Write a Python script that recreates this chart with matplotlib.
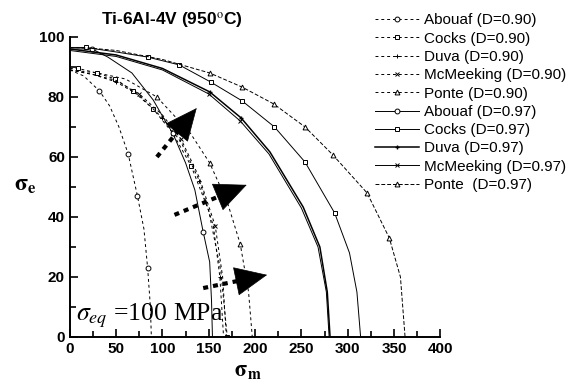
import matplotlib
matplotlib.use('Agg')
from matplotlib import pyplot as plt
from matplotlib.ticker import MultipleLocator

# D = 0.90 curves
abouaf90_x = [0, 15, 32, 43, 53, 63, 73, 80, 84, 87, 88]
abouaf90_y = [89, 87, 82, 77, 70, 61, 47, 36, 23, 10, 0]
cocks90_x = [0, 9, 29, 49, 68, 90, 111, 131, 150, 163, 170]
cocks90_y = [89.5, 89.5, 88, 86, 82, 76, 68, 57, 42, 22, 0]
duva90_x = [0, 25, 50, 75, 100, 120, 140, 155, 162, 166]
duva90_y = [89, 87.5, 85, 80.5, 73, 65, 52, 37, 20, 0]
mcmeeking90_x = [0, 25, 50, 75, 100, 120, 140, 157, 165, 169]
mcmeeking90_y = [89, 87.5, 85.5, 81, 74, 66, 53, 37, 20, 0]
ponte90_x = [0, 30, 60, 94, 130, 151, 170, 184, 193, 197]
ponte90_y = [89, 88, 86, 80, 68, 58, 45, 31, 15, 0]

# D = 0.97 curves
abouaf97_x = [0, 24, 41, 67, 90, 103, 111, 125, 135, 144, 151, 153, 154]
abouaf97_y = [96, 96, 93.3, 88, 79, 72, 68, 58, 49, 35, 25, 12, 0]
cocks97_x = [0, 17, 50, 84, 118, 152, 186, 221, 254, 286, 302, 310, 314]
cocks97_y = [96.5, 96.5, 95, 93.3, 90.7, 85, 78.7, 70, 58.3, 41.3, 28, 15, 0]
duva97_x = [0, 50, 100, 151, 185, 216, 252, 270, 278, 281]
duva97_y = [96, 94, 89.5, 81.7, 73, 61.7, 43.3, 30, 15, 0]
mcmeeking97_x = [0, 50, 100, 150, 184, 215, 250, 268, 277, 280]
mcmeeking97_y = [95.5, 93.5, 89, 81, 72, 61, 43, 30, 15, 0]
ponte97_x = [0, 25, 50, 100, 151, 186, 220, 254, 284, 321, 345, 357, 362]
ponte97_y = [96.5, 96.2, 95.5, 92.5, 88, 83.3, 77.7, 70, 60.7, 48, 33, 20, 0]

# arrows (tail, tip) in data units
arrow_tails = [(94, 60), (113, 40.7), (144, 16.3)]
arrow_tips = [(137, 76.3), (191, 50.7), (213, 20.7)]

plt.rcParams['font.family'] = ['Liberation Sans', 'DejaVu Sans']
plt.rcParams['mathtext.fontset'] = 'stix'

fig = plt.figure(figsize=(5.87, 3.85), dpi=100)
ax = fig.add_axes([0.119, 0.1247, 0.631, 0.7793])

thin = dict(color='black', lw=0.7, mfc='white', mec='black', mew=0.7)
dash = (0, (3, 3))

ax.plot(abouaf90_x, abouaf90_y, ls=dash, marker='o', ms=3.5,
        markevery=[2, 5, 6, 8], label='Abouaf (D=0.90)', **thin)
ax.plot(cocks90_x, cocks90_y, ls=dash, marker='s', ms=3.5,
        markevery=[1, 2, 3, 4, 5, 6, 7, 10], label='Cocks (D=0.90)', **thin)
ax.plot(duva90_x, duva90_y, ls=dash, marker='+', ms=3.5,
        markevery=[2, 4, 6, 8], label='Duva (D=0.90)', **thin)
ax.plot(mcmeeking90_x, mcmeeking90_y, ls=dash, marker='x', ms=2.5,
        markevery=[3, 5, 7], label='McMeeking (D=0.90)', **thin)
ax.plot(ponte90_x, ponte90_y, ls=dash, marker='^', ms=3.5,
        markevery=[3, 5, 7], label='Ponte (D=0.90)', **thin)

ax.plot(abouaf97_x, abouaf97_y, ls='-', marker='o', ms=3.5,
        markevery=[1, 6, 9], label='Abouaf (D=0.97)', **thin)
ax.plot(cocks97_x, cocks97_y, ls='-', marker='s', ms=3.5,
        markevery=[1, 3, 4, 5, 6, 7, 8, 9], label='Cocks (D=0.97)', **thin)
ax.plot(duva97_x, duva97_y, ls='-', marker='+', ms=3.5,
        markevery=[3, 4], label='Duva (D=0.97)', color='black', lw=1.1)
ax.plot(mcmeeking97_x, mcmeeking97_y, ls='-', marker='x', ms=2.5,
        markevery=[3, 4], label='McMeeking (D=0.97)', **thin)
ax.plot(ponte97_x, ponte97_y, ls=(0, (4, 2)), marker='^', ms=3.5,
        markevery=[4, 5, 6, 7, 8, 9, 10], label='Ponte  (D=0.97)', **thin)

# dashed thick shaft, solid filled head
for (tx, ty), (hx, hy) in zip(arrow_tails, arrow_tips):
    bx = tx + 0.6 * (hx - tx)
    by = ty + 0.6 * (hy - ty)
    ax.plot([tx, bx], [ty, by], color='black', lw=3, ls=(0, (1.2, 1.2)),
            solid_capstyle='butt')
    ax.annotate('', xy=(hx, hy), xytext=(bx, by),
                arrowprops=dict(arrowstyle='-|>,head_length=1.0,head_width=0.45',
                                mutation_scale=22, color='black', lw=0.5,
                                shrinkA=0, shrinkB=0))

ax.text(7, 5.5, r'$\sigma_{eq}$ =100 MPa', fontsize=18.5,
        family=['Liberation Serif', 'DejaVu Serif'])

ax.set_xlim(0, 400)
ax.set_ylim(0, 100)
ax.xaxis.set_major_locator(MultipleLocator(50))
ax.xaxis.set_minor_locator(MultipleLocator(25))
ax.yaxis.set_major_locator(MultipleLocator(20))
ax.yaxis.set_minor_locator(MultipleLocator(10))
ax.tick_params(which='both', direction='in', width=1.2, labelsize=11)
ax.tick_params(which='major', length=6)
ax.tick_params(which='minor', length=4)
for lbl in ax.get_xticklabels() + ax.get_yticklabels():
    lbl.set_fontweight('bold')
for s in ['top', 'right']:
    ax.spines[s].set_visible(False)
for s in ['left', 'bottom']:
    ax.spines[s].set_linewidth(1.4)

ax.set_xlabel(r'$\mathbf{\sigma_m}$', fontsize=16)
ax.set_ylabel(r'$\mathbf{\sigma_e}$', fontsize=17, rotation=0)
ax.xaxis.set_label_coords(0.48, -0.08)
ax.yaxis.set_label_coords(-0.12, 0.47)

ax.set_title('Ti-6Al-4V (950$^\\mathrm{o}$C)', fontsize=12.5, fontweight='bold',
             pad=9, x=0.276)

fig.legend(loc='upper left', bbox_to_anchor=(0.639, 0.965), frameon=False,
           fontsize=11, handlelength=2.9, handletextpad=0.33, labelspacing=0.28,
           borderpad=0, borderaxespad=0)

fig.savefig('out.png', dpi=100)
